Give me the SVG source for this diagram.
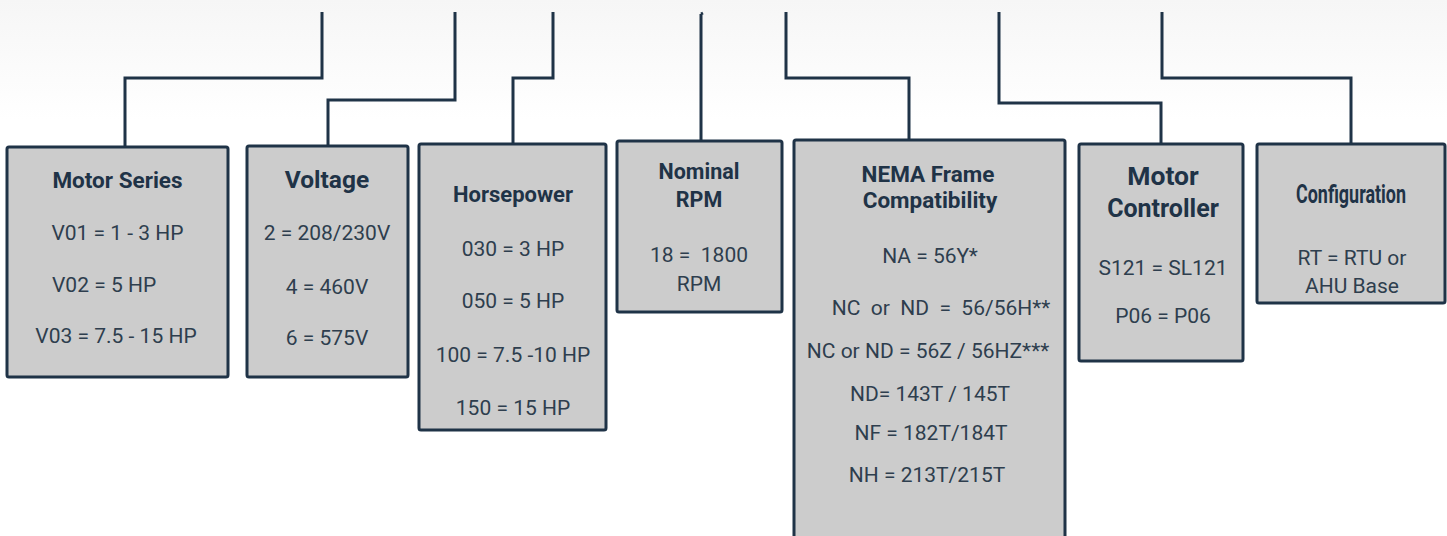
<svg xmlns="http://www.w3.org/2000/svg" width="1447" height="536" viewBox="0 0 1447 536">
<defs>
<linearGradient id="bg" x1="0" y1="0" x2="0" y2="1">
<stop offset="0" stop-color="#f6f6f6"/>
<stop offset="1" stop-color="#ffffff"/>
</linearGradient>
</defs>
<style>
.box{fill:#cccccc;stroke:#1f3347;stroke-width:3;}
.con{fill:none;stroke:#1f3347;stroke-width:3;stroke-linejoin:miter;}
.t{font-family:Roboto,"Liberation Sans",sans-serif;font-weight:700;fill:#1f3347;text-anchor:middle;}
.b{font-family:Roboto,"Liberation Sans",sans-serif;font-weight:400;font-size:21px;fill:#2e3e4e;text-anchor:middle;}
</style>
<rect x="0" y="0" width="1447" height="120" fill="url(#bg)"/>
<g id="connectors">
<path class="con" d="M322,12 V78 H125 V146"/>
<path class="con" d="M455,12 V100 H328 V146"/>
<path class="con" d="M553,12 V78 H513 V144"/>
<path class="con" d="M701,14 V141 M701,14 L703,13"/>
<path class="con" d="M786,12 V78 H909 V141"/>
<path class="con" d="M999,12 V103 H1161 V145"/>
<path class="con" d="M1162,12 V78 H1351 V145"/>
</g>
<g id="motor-series">
<rect class="box" x="7" y="147" width="221" height="230" rx="2"/>
<text class="t" x="117.5" y="188" font-size="22.5">Motor Series</text>
<text class="b" x="117.5" y="240">V01 = 1 - 3 HP</text>
<text class="b" x="52" y="292" style="text-anchor:start">V02 = 5 HP</text>
<text class="b" x="116" y="343">V03 = 7.5 - 15 HP</text>
</g>
<g id="voltage">
<rect class="box" x="247" y="146" width="161" height="231" rx="2"/>
<text class="t" x="327" y="188" font-size="24.5">Voltage</text>
<text class="b" x="327" y="240">2 = 208/230V</text>
<text class="b" x="327" y="294">4 = 460V</text>
<text class="b" x="327" y="345">6 = 575V</text>
</g>
<g id="horsepower">
<rect class="box" x="419" y="144" width="187" height="286" rx="2"/>
<text class="t" x="513" y="202" font-size="22">Horsepower</text>
<text class="b" x="513" y="256">030 = 3 HP</text>
<text class="b" x="513" y="308">050 = 5 HP</text>
<text class="b" x="513" y="362">100 = 7.5 -10 HP</text>
<text class="b" x="513" y="415">150 = 15 HP</text>
</g>
<g id="nominal-rpm">
<rect class="box" x="617" y="141" width="165" height="171" rx="2"/>
<text class="t" x="699" y="179" font-size="21.5">Nominal</text>
<text class="t" x="699" y="207" font-size="21.5">RPM</text>
<text class="b" x="699" y="262" xml:space="preserve">18 =  1800</text>
<text class="b" x="699" y="291">RPM</text>
</g>
<g id="nema-frame">
<rect class="box" x="794" y="140" width="271" height="410" rx="2"/>
<text class="t" x="928" y="182" font-size="22.5">NEMA Frame</text>
<text class="t" x="930" y="208" font-size="22.5">Compatibility</text>
<text class="b" x="930" y="263">NA = 56Y*</text>
<text class="b" x="941" y="315" xml:space="preserve">NC  or  ND  =  56/56H**</text>
<text class="b" x="928" y="358">NC or ND = 56Z / 56HZ***</text>
<text class="b" x="930" y="401">ND= 143T / 145T</text>
<text class="b" x="931" y="440">NF = 182T/184T</text>
<text class="b" x="927" y="482">NH = 213T/215T</text>
</g>
<g id="motor-controller">
<rect class="box" x="1079" y="144" width="164" height="217" rx="2"/>
<text class="t" x="1163" y="185" font-size="26.5">Motor</text>
<text class="t" x="1163" y="217" font-size="25">Controller</text>
<text class="b" x="1163" y="275">S121 = SL121</text>
<text class="b" x="1163" y="323">P06 = P06</text>
</g>
<g id="configuration">
<rect class="box" x="1257" y="144" width="188" height="159" rx="2"/>
<text class="t" font-size="26" transform="translate(1351,203) scale(0.69,1)" x="0" y="0">Configuration</text>
<text class="b" x="1352" y="265">RT = RTU or</text>
<text class="b" x="1352" y="293">AHU Base</text>
</g>
</svg>
